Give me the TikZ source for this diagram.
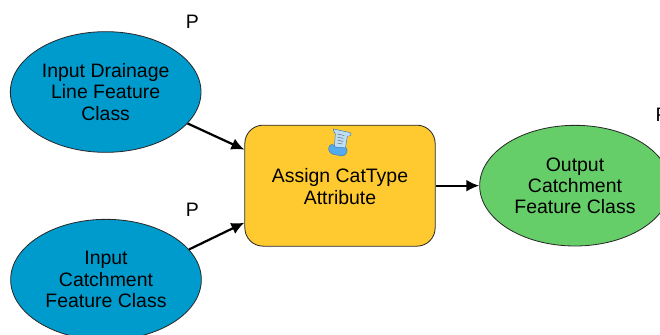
\documentclass[tikz,border=0pt]{standalone}
\usepackage{fontspec}
\setmainfont{Liberation Sans}
\usetikzlibrary{shapes,arrows.meta,positioning}
\definecolor{inputblue}{RGB}{0,155,205}
\definecolor{toolyellow}{RGB}{255,202,48}
\definecolor{outputgreen}{RGB}{102,206,104}
\definecolor{edgegray}{RGB}{40,40,40}
\definecolor{scrollblue}{RGB}{190,222,246}
\definecolor{rollblue}{RGB}{85,170,235}
\definecolor{scrolledge}{RGB}{60,120,180}
\tikzset{
    datanode/.style={draw=edgegray, line width=0.7pt, ellipse, inner sep=0pt, minimum width=5.72cm, minimum height=3.62cm, align=center, font=\fontsize{16.6}{18.2}\selectfont},
    toolnode/.style={draw=edgegray, line width=0.7pt, rectangle, rounded corners=0.55cm, fill=toolyellow, inner sep=0pt, minimum width=5.71cm, minimum height=3.63cm, align=center},
    flagnode/.style={font=\fontsize{16.6}{18}\selectfont, inner sep=0pt},
    flow/.style={-{Latex[length=0.39cm,width=0.36cm]}, line width=1.9pt, black}
}
\begin{document}
\begin{tikzpicture}
    \useasboundingbox (0,0) rectangle (19.8,-10.05);
    \fill[white] (0,0) rectangle (19.8,-10.05);

    \node[datanode, fill=inputblue] (drainage) at (3.17,-2.76) {Input Drainage\\Line Feature\\Class};
    \node[datanode, fill=inputblue] (catchment) at (3.18,-8.39) {Input\\Catchment\\Feature Class};
    \node[toolnode] (assign) at (10.2,-5.57) {};
    \node[datanode, fill=outputgreen] (output) at (17.25,-5.57) {Output\\Catchment\\Feature Class};
    \node[font=\fontsize{16.6}{18.2}\selectfont, align=center] (assignlabel) at (10.2,-5.6) {Assign CatType\\Attribute};

    \node[flagnode] (flagdrainage) at (5.77,-0.65) {P};
    \node[flagnode] (flagcatchment) at (5.77,-6.29) {P};
    \node[flagnode] (flagoutput) at (19.86,-3.45) {P};

    \draw[flow] (drainage.-21.6) -- ([yshift=1.08cm]assign.west);
    \draw[flow] (catchment.20.3) -- ([yshift=-1.11cm]assign.west);
    \draw[flow] (assign) -- (output);

    % scroll icon
    \begin{scope}[shift={(10.21,-4.26)}, x=0.03cm, y=-0.03cm, line width=0.4pt]
        \filldraw[fill=scrollblue, draw=scrolledge] (-7,-13) -- (7,-10) .. controls (11,-10) and (12,-7) .. (9,-6) -- (7,-6) -- (5,7) -- (-6,6) -- (-5,-8) .. controls (-5,-10) and (-8,-11) .. (-7,-13) -- cycle;
        \filldraw[fill=rollblue, draw=scrolledge] (-10,3) .. controls (-13,6) and (-12,10) .. (-8,12) -- (1,14) .. controls (6,14) and (8,9) .. (6,6) -- (-5,5) .. controls (-7,2) and (-9,2) .. (-10,3) -- cycle;
        \draw[black!60] (-3,-8) -- (4,-6.5) (-3,-5) -- (3,-3.5) (-3,-2) -- (3,-0.5) (-3,1) -- (2,2);
    \end{scope}
\end{tikzpicture}
\end{document}
